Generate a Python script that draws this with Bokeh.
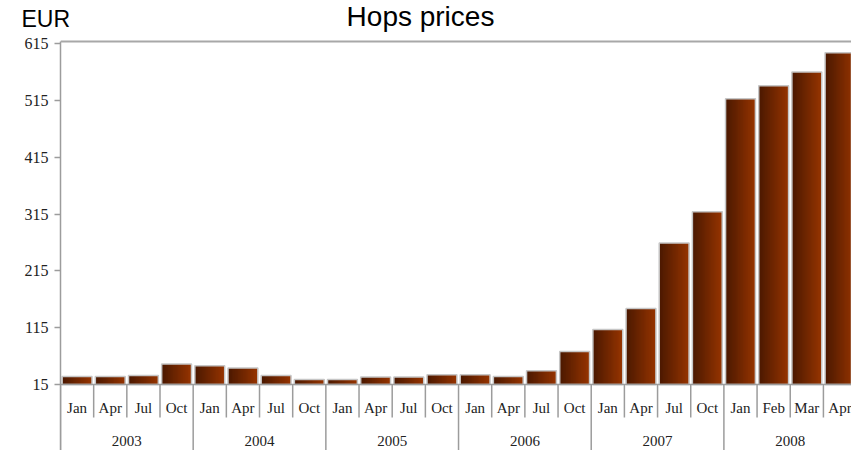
from bokeh.plotting import figure
from bokeh.layouts import column
from bokeh.models import Range1d, FixedTicker, Span, ColumnDataSource
from bokeh.core.properties import value
from bokeh.embed import file_html
from bokeh.resources import INLINE

# ---- data -------------------------------------------------------------
years = ["2003", "2004", "2005", "2006", "2007", "2008"]
months = ["Jan", "Apr", "Jul", "Oct"] * 5 + ["Jan", "Feb", "Mar", "Apr"]
prices = [29, 29, 31, 51,
          48, 44, 31, 24,
          24, 28, 28, 32,
          32, 29, 39, 73,
          112, 149, 264, 319,
          518, 541, 565, 599]
y_ticks = [15, 115, 215, 315, 415, 515, 615]

# ---- layout constants (pixels) -----------------------------------------
W, H = 851, 450
HEADER_H = 32            # strip holding the unit and the title
FRAME_TOP = 39           # page y of the chart frame's top edge
FRAME_LEFT = 60
TOP_LINE_PX = 41
BASE = 15
BASE_PX = 384
PX_PER_UNIT = 0.568
CAT_PX = 33.17
MONTH_ROW_PX = 33
MONTH_LABEL_OFF = 23
YEAR_LABEL_OFF = 56

y_end = BASE + (BASE_PX - FRAME_TOP) / PX_PER_UNIT
y_start = BASE - (H - BASE_PX) / PX_PER_UNIT
y_top_line = BASE + (BASE_PX - TOP_LINE_PX) / PX_PER_UNIT
month_sep_bottom = BASE - MONTH_ROW_PX / PX_PER_UNIT
x_end = (W - FRAME_LEFT) / CAT_PX

GREY = "#9c9c9c"
SERIF = "Liberation Serif"
SANS = "Liberation Sans"

# ---- header: unit and title ------------------------------------------
head = figure(width=W, height=HEADER_H, output_backend="svg", toolbar_location=None,
              x_range=Range1d(0, W), y_range=Range1d(HEADER_H, 0),
              x_axis_location=None, y_axis_location=None, title=None,
              min_border=0)
head.frame_align = False
head.outline_line_color = None
head.grid.visible = False
head.text(x=[21], y=[18.5], text=["EUR"], text_align="left", text_baseline="middle",
          text_font=value(SANS), text_font_size="23px", text_color="#000000")
head.text(x=[420], y=[15.6], text=["Hops prices"], text_align="center",
          text_baseline="middle", text_font=value(SANS),
          text_font_size="28px", text_color="#000000")

# ---- main chart --------------------------------------------------------
p = figure(width=W, height=H - HEADER_H, output_backend="svg", toolbar_location=None,
           x_range=Range1d(0, x_end), y_range=Range1d(y_start, y_end),
           x_axis_location=None, title=None,
           min_border_left=FRAME_LEFT, min_border_top=FRAME_TOP - HEADER_H,
           min_border_right=0, min_border_bottom=0)
p.frame_align = False
p.outline_line_color = None
p.grid.visible = False

# bars with a horizontal dark-to-light gradient, built from thin slices
BAR_W = 0.9
N_STRIPS = 24
c0 = (0x4c, 0x19, 0x00)
c1 = (0x95, 0x34, 0x00)
lefts, rights, tops, cols = [], [], [], []
sw = BAR_W / N_STRIPS
for i, v in enumerate(prices):
    bar_left = i + 0.5 - BAR_W / 2
    for j in range(N_STRIPS):
        t = j / (N_STRIPS - 1)
        r, g, b = (round(a + (bb - a) * t) for a, bb in zip(c0, c1))
        lefts.append(bar_left + j * sw)
        rights.append(bar_left + (j + 1) * sw + (sw if j < N_STRIPS - 1 else 0))
        tops.append(v)
        cols.append(f"#{r:02x}{g:02x}{b:02x}")
strips = ColumnDataSource(dict(left=lefts, right=rights, top=tops, color=cols))
p.quad(left="left", right="right", top="top", bottom=BASE, fill_color="color",
       line_color=None, source=strips)

bars = ColumnDataSource(dict(x=[i + 0.5 for i in range(len(prices))], top=prices))
p.vbar(x="x", width=BAR_W, top="top", bottom=BASE, source=bars,
       fill_color=None, line_color="#c6c6c6", line_width=1.5)

# baseline, top rule, category separators
p.add_layout(Span(location=BASE, dimension="width", line_color=GREY, line_width=1.5))
p.add_layout(Span(location=y_top_line, dimension="width", line_color="#a8a8a8", line_width=2))

sep_x = list(range(len(prices)))
sep_y1 = [y_start if k % 4 == 0 else month_sep_bottom for k in sep_x]
p.segment(x0=sep_x, y0=[BASE] * len(sep_x), x1=sep_x, y1=sep_y1,
          line_color=GREY, line_width=1.5)

# category labels: months, then years
p.text(x=[i + 0.5 for i in range(len(months))], y=[BASE] * len(months), text=months,
       y_offset=MONTH_LABEL_OFF, text_align="center", text_baseline="middle",
       text_font=value(SERIF), text_font_size="15px", text_color="#222222")
p.text(x=[4 * j + 2 for j in range(len(years))], y=[BASE] * len(years), text=years,
       y_offset=YEAR_LABEL_OFF, text_align="center", text_baseline="middle",
       text_font=value(SERIF), text_font_size="15px", text_color="#222222")

# value axis
ax = p.yaxis[0]
ax.ticker = FixedTicker(ticks=y_ticks)
ax.bounds = (y_start, y_top_line)
ax.axis_line_color = GREY
ax.axis_line_width = 1.5
ax.major_tick_line_color = GREY
ax.major_tick_line_width = 1.5
ax.major_tick_out = 6
ax.major_tick_in = 0
ax.minor_tick_line_color = None
ax.major_label_standoff = 6
ax.major_label_text_font = SERIF
ax.major_label_text_font_size = "16px"
ax.major_label_text_color = "#222222"

layout = column(head, p, spacing=0)
open("out.html", "w").write(file_html(layout, INLINE))
